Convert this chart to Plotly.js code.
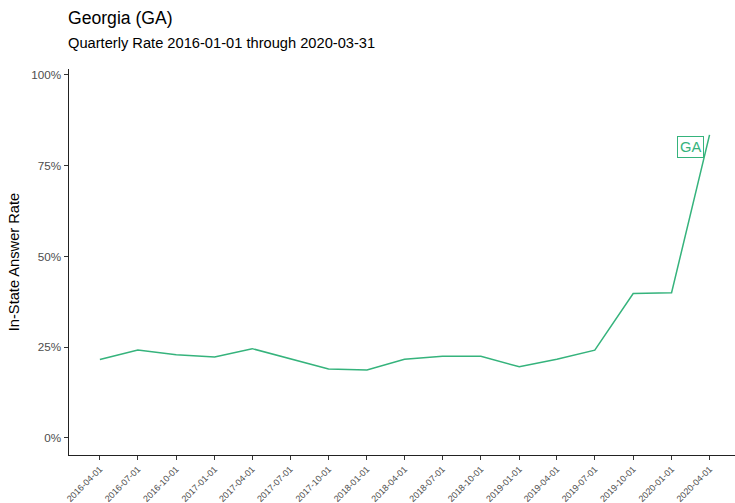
<!DOCTYPE html>
<html>
<head>
<meta charset="utf-8">
<script src="https://cdn.plot.ly/plotly-3.0.1.min.js"></script>
<style>
  html, body { margin: 0; padding: 0; background: #ffffff; }
  #chart { width: 735px; height: 503px; }
</style>
</head>
<body>
<div id="chart"></div>
<script>
// Quarterly in-state answer rate for Georgia
var quarters = ['2016-04-01', '2016-07-01', '2016-10-01', '2017-01-01', '2017-04-01',
                '2017-07-01', '2017-10-01', '2018-01-01', '2018-04-01', '2018-07-01',
                '2018-10-01', '2019-01-01', '2019-04-01', '2019-07-01', '2019-10-01',
                '2020-01-01', '2020-04-01'];
var answerRate = [21.6, 24.2, 22.9, 22.3, 24.6,
                  21.9, 19.0, 18.7, 21.7, 22.5,
                  22.5, 19.6, 21.7, 24.2, 39.8,
                  40.0, 83.5];
var yTicks = [0, 25, 50, 75, 100];
var yTickLabels = ['0%', '25%', '50%', '75%', '100%'];
var stateCode = 'GA';
var titleText = 'Georgia (GA)';
var subtitleText = 'Quarterly Rate 2016-01-01 through 2020-03-31';
var yTitle = 'In-State Answer Rate';

var lineColor = '#35b37c';
var fontFamily = '"Liberation Sans", Arial, Helvetica, sans-serif';

var trace = {
  x: quarters,
  y: answerRate,
  type: 'scatter',
  mode: 'lines',
  line: { color: lineColor, width: 1.5 },
  hoverinfo: 'skip'
};

var last = quarters.length - 1;

var layout = {
  width: 735,
  height: 503,
  margin: { l: 69, r: 0, t: 69, b: 48 },
  paper_bgcolor: '#ffffff',
  plot_bgcolor: '#ffffff',
  showlegend: false,
  font: { family: fontFamily, color: '#000000' },
  title: {
    text: titleText,
    font: { family: fontFamily, size: 17.6, color: '#000000' },
    xref: 'container', x: 68 / 735, xanchor: 'left',
    yref: 'container', y: 1 - 18 / 503, yanchor: 'middle'
  },
  xaxis: {
    type: 'date',
    range: ['2016-01-18', '2020-06-01'],
    tickmode: 'array',
    tickvals: quarters,
    ticktext: quarters,
    tickangle: -45,
    tickfont: { family: fontFamily, size: 9, color: '#4d4d4d' },
    ticks: 'outside',
    ticklen: 4,
    tickwidth: 1,
    tickcolor: '#333333',
    showline: true,
    linecolor: '#222222',
    linewidth: 1.4,
    showgrid: false,
    zeroline: false,
    fixedrange: true
  },
  yaxis: {
    range: [-4.7, 101.65],
    tickmode: 'array',
    tickvals: yTicks,
    ticktext: yTickLabels,
    tickfont: { family: fontFamily, size: 11.7, color: '#4d4d4d' },
    ticks: 'outside',
    ticklen: 4,
    tickwidth: 1,
    tickcolor: '#333333',
    showline: true,
    linecolor: '#222222',
    linewidth: 1.4,
    showgrid: false,
    zeroline: false,
    fixedrange: true,
    title: {
      text: yTitle,
      font: { family: fontFamily, size: 14.67, color: '#000000' },
      standoff: 8
    }
  },
  annotations: [
    {
      text: subtitleText,
      showarrow: false,
      xref: 'paper', x: 0, xanchor: 'left', xshift: -3,
      yref: 'paper', y: 1 + (69 - 43) / 386, yanchor: 'middle',
      font: { family: fontFamily, size: 14.67, color: '#000000' }
    },
    {
      // end-of-line label for the state
      text: stateCode,
      showarrow: false,
      xref: 'x', x: quarters[last], xanchor: 'right', xshift: -6,
      yref: 'y', y: answerRate[last], yanchor: 'middle', yshift: -12,
      font: { family: fontFamily, size: 14.67, color: lineColor },
      bgcolor: '#ffffff',
      bordercolor: lineColor,
      borderwidth: 1,
      borderpad: 2
    }
  ]
};

Plotly.newPlot('chart', [trace], layout, { displayModeBar: false, staticPlot: true });
</script>
</body>
</html>
